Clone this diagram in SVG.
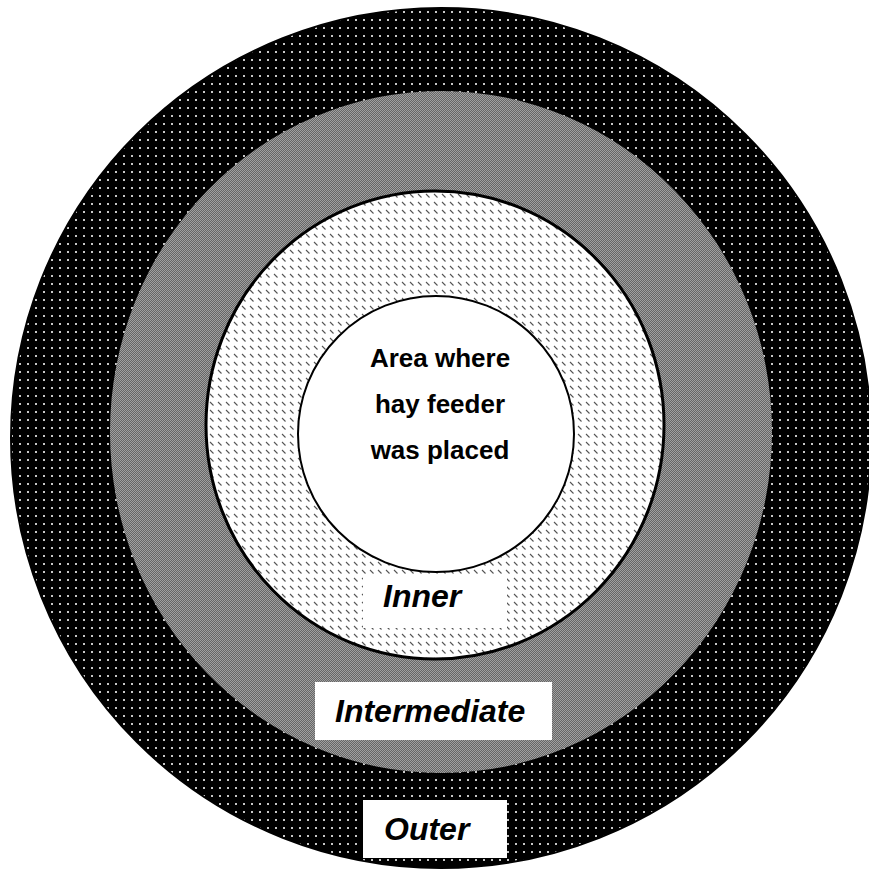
<svg xmlns="http://www.w3.org/2000/svg" width="869" height="871" viewBox="0 0 869 871">
  <defs>
    <pattern id="dots" x="0" y="0" width="8" height="8" patternUnits="userSpaceOnUse">
      <rect width="8" height="8" fill="#000"/>
      <rect x="3" y="3" width="2" height="2" fill="#c8c8c8"/>
    </pattern>
    <pattern id="checker" x="0" y="0" width="2" height="2" patternUnits="userSpaceOnUse">
      <rect width="2" height="2" fill="#666" shape-rendering="crispEdges"/>
      <rect x="0" y="0" width="1" height="1" fill="#a0a0a0" shape-rendering="crispEdges"/>
      <rect x="1" y="1" width="1" height="1" fill="#a0a0a0" shape-rendering="crispEdges"/>
    </pattern>
    <pattern id="hatch" x="0" y="0" width="8" height="8" patternUnits="userSpaceOnUse">
      <rect width="8" height="8" fill="#fff"/>
      <line x1="2" y1="2" x2="5.5" y2="5.5" stroke="#555" stroke-width="1.1"/>
    </pattern>
  </defs>
  <style>
    .lbl { font-family: "Liberation Sans", Arial, sans-serif; font-weight: bold; font-style: italic; font-size: 32px; fill: #000; }
    .ctr { font-family: "Liberation Sans", Arial, sans-serif; font-weight: bold; font-size: 26px; fill: #000; text-anchor: middle; }
    .box { fill: #fff; stroke: none; }
  </style>
  <rect width="869" height="871" fill="#fff"/>
  <g id="outer">
    <ellipse cx="441" cy="438" rx="430" ry="430" fill="url(#dots)" stroke="#000" stroke-width="2"/>
  </g>
  <g id="intermediate">
    <ellipse cx="441" cy="432" rx="331" ry="341" fill="url(#checker)"/>
  </g>
  <g id="inner">
    <ellipse cx="435" cy="425" rx="229" ry="234" fill="url(#hatch)" stroke="#000" stroke-width="3"/>
  </g>
  <g id="center">
    <ellipse cx="436" cy="434" rx="138" ry="138" fill="#fff" stroke="#000" stroke-width="2"/>
    <text class="ctr" x="440" y="367">Area where</text>
    <text class="ctr" x="440" y="413">hay feeder</text>
    <text class="ctr" x="440" y="459">was placed</text>
  </g>
  <g id="label-inner">
    <rect class="box" x="363" y="575" width="144" height="53"/>
    <text class="lbl" x="383" y="607">Inner</text>
  </g>
  <g id="label-intermediate">
    <rect class="box" x="315" y="682" width="237" height="58"/>
    <text class="lbl" x="335" y="722">Intermediate</text>
  </g>
  <g id="label-outer">
    <rect class="box" x="363" y="800" width="144" height="58"/>
    <text class="lbl" x="384" y="840">Outer</text>
  </g>
  <g id="connectors"/>
</svg>
